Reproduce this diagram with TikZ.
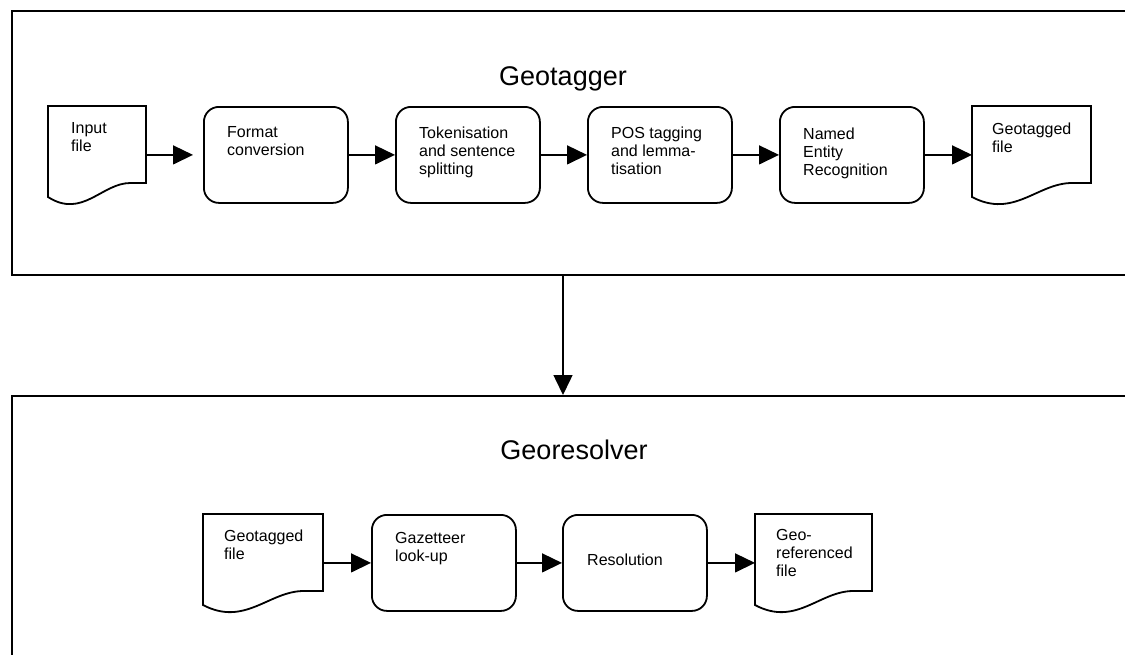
\documentclass[tikz,border=0pt]{standalone}
\usepackage{fontspec}
\setmainfont{Liberation Sans}
\usetikzlibrary{arrows.meta,calc}
\newcommand\docshape[1]{%
  \draw[docline] let \p1=(#1.north west), \p2=(#1.south east) in
    (\x1,\y1) -- (\x2,\y1) -- (\x2,\y1-77pt) -- ({\x1+0.84*(\x2-\x1)},\y1-77pt)
    .. controls ({\x1+0.55*(\x2-\x1)},\y1-77pt) and ({\x1+0.35*(\x2-\x1)},\y1-113pt) .. (\x1,\y1-91pt) -- cycle;}
\begin{document}
\begin{tikzpicture}[x=1pt,y=-1pt,
  frame/.style={draw, line width=1.9pt, inner sep=0pt, anchor=north west},
  proc/.style={draw, line width=1.8pt, rounded corners=15pt, minimum width=144pt, minimum height=96pt, inner sep=0pt, anchor=north west},
  docbox/.style={inner sep=0pt, outer sep=0pt, minimum height=96pt, anchor=north west},
  docline/.style={line width=1.8pt, line join=miter},
  lbl/.style={anchor=north west, inner sep=0pt, align=left, font=\fontsize{16}{18}\selectfont, execute at begin node=\strut},
  flow/.style={line width=1.5pt, -{Triangle[length=20pt,width=19pt]}},
  ttl/.style={font=\fontsize{27}{32}\selectfont, anchor=base, inner sep=0pt}
]
\useasboundingbox (0,0) rectangle (1125,654);
\clip (0,0) rectangle (1125,654);
\fill[white] (0,0) rectangle (1125,654);

% frames
\node[frame, minimum width=1130pt, minimum height=264pt] (topframe) at (11,10) {};
\node[frame, minimum width=1130pt, minimum height=280pt] (botframe) at (11,395) {};
\node[ttl] (t1) at (563,85) {Geotagger};
\node[ttl] (t2) at (574,459) {Georesolver};

% top row
\node[docbox, minimum width=98pt] (d1) at (48,106) {};
\node[proc] (p1) at (203,106) {};
\node[proc] (p2) at (395,106) {};
\node[proc] (p3) at (587,106) {};
\node[proc] (p4) at (779,106) {};
\node[docbox, minimum width=119pt] (d2) at (972,106) {};
\docshape{d1}
\docshape{d2}

\node[lbl] at (71,122.4) {Input\\file};
\node[lbl] at (227,126.4) {Format\\conversion};
\node[lbl] at (419,126.4) {Tokenisation\\and sentence\\splitting};
\node[lbl] at (611,126.4) {POS tagging\\and lemma-\\tisation};
\node[lbl] at (803,127.4) {Named\\Entity\\Recognition};
\node[lbl] at (992,122.4) {Geotagged\\file};

\draw[flow] (p1.west -| d1.east) -- ([xshift=-10pt]p1.west);
\draw[flow] (p1.east) -- (p2.west);
\draw[flow] (p2.east) -- (p3.west);
\draw[flow] (p3.east) -- (p4.west);
\draw[flow] (p4.east) -- (p4.east -| d2.west);

% vertical connector
\coordinate (vx) at (563,0);
\draw[flow] (topframe.south -| vx) -- (botframe.north -| vx);

% bottom row
\node[docbox, minimum width=120pt] (b1) at (203,514) {};
\node[proc] (g1) at (371,514) {};
\node[proc] (g2) at (562,514) {};
\node[docbox, minimum width=117pt] (b2) at (755,514) {};
\docshape{b1}
\docshape{b2}

\node[lbl] at (224,529.4) {Geotagged\\file};
\node[lbl] at (395,532.4) {Gazetteer\\look-up};
\node[lbl] at (587,552.4) {Resolution};
\node[lbl] at (776,529.4) {Geo-\\referenced\\file};

\draw[flow] (g1.west -| b1.east) -- (g1.west);
\draw[flow] (g1.east) -- (g2.west);
\draw[flow] (g2.east) -- (g2.east -| b2.west);
\end{tikzpicture}
\end{document}
